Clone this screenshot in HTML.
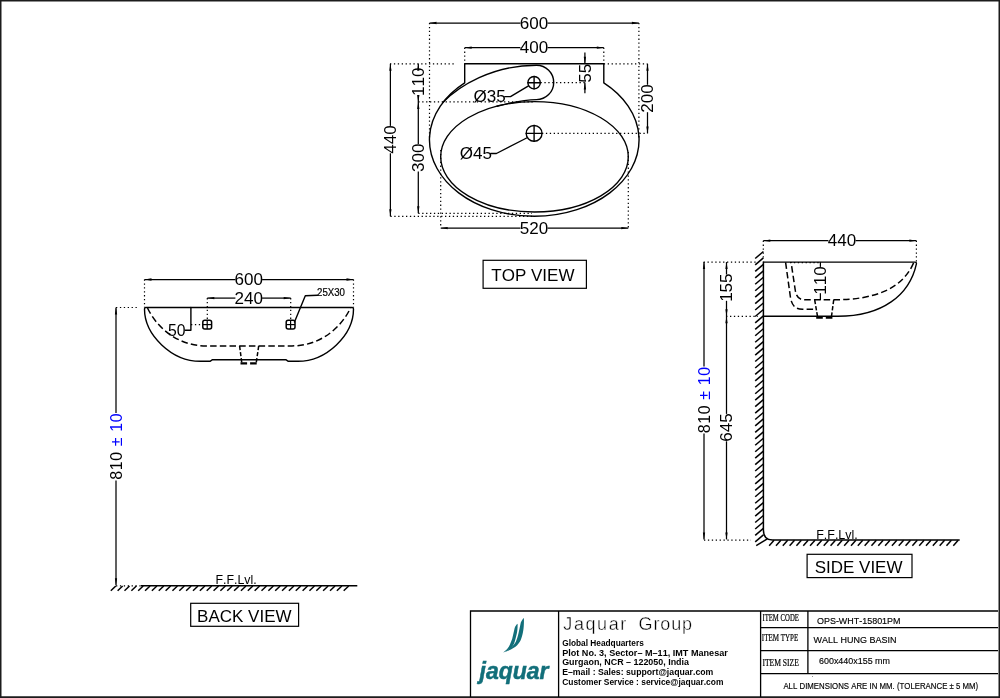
<!DOCTYPE html>
<html lang="en">
<head>
<meta charset="utf-8">
<title>Wall Hung Basin OPS-WHT-15801PM - Jaquar Group</title>
<style>
html,body{margin:0;padding:0;background:#fff;}
body{width:1000px;height:698px;overflow:hidden;position:relative;font-family:"Liberation Sans", sans-serif;}
svg{position:absolute;left:0;top:0;display:block;will-change:transform;}
svg text{font-family:"Liberation Sans", sans-serif;fill:#000;font-kerning:none;}
.d{stroke:#000;stroke-width:1.25;fill:none;}
.m{stroke:#000;stroke-width:1.4;fill:none;stroke-linecap:round;stroke-linejoin:round;}
.t{stroke:#000;stroke-width:1.2;fill:none;stroke-dasharray:1.3 2.6;}
.h{stroke:#000;stroke-width:1.5;fill:none;stroke-dasharray:6.5 3.2;}
.h2{stroke:#000;stroke-width:1.5;fill:none;stroke-dasharray:4.2 2;}
.m2{stroke:#000;stroke-width:1.5;fill:none;}
.m3{stroke:#000;stroke-width:1.2;fill:none;}
.hb{stroke:#000;stroke-width:2.3;fill:none;stroke-dasharray:6.6 3;}
.a{fill:#000;stroke:none;}
.b{stroke:#000;stroke-width:1.2;fill:#fff;}
.f{stroke:#000;stroke-width:1.5;fill:none;}
.k{stroke:#000;stroke-width:1.5;fill:none;}
.tb{stroke:#000;stroke-width:1.3;fill:none;}
.frame{stroke:#1a1a1a;stroke-width:2;fill:none;}
</style>
</head>
<body>
<svg width="1000" height="698" viewBox="0 0 1000 698">
<rect x="0" y="0" width="1000" height="698" fill="#fff"/>
<path fill="#1c1c1c" d="M0,0 H1000 V698 H0 Z M1.5,1.5 V696.3 H998.5 V1.5 Z" fill-rule="evenodd"/>
<g id="top-view">
<line class="d" x1="429.5" y1="23.0" x2="520.4" y2="23.0"/>
<line class="d" x1="547.6" y1="23.0" x2="638.9" y2="23.0"/>
<polygon class="a" points="429.5,23.0 436.5,21.85 436.5,24.15"/>
<polygon class="a" points="638.9,23.0 631.9,21.85 631.9,24.15"/>
<text x="534.0" y="28.7" font-size="16" text-anchor="middle" textLength="28.42" lengthAdjust="spacingAndGlyphs">600</text>
<line class="d" x1="464.7" y1="47.7" x2="520.4" y2="47.7"/>
<line class="d" x1="547.6" y1="47.7" x2="603.8" y2="47.7"/>
<polygon class="a" points="464.7,47.7 471.7,46.550000000000004 471.7,48.85"/>
<polygon class="a" points="603.8,47.7 596.8,46.550000000000004 596.8,48.85"/>
<text x="534.0" y="53.400000000000006" font-size="16" text-anchor="middle" textLength="28.42" lengthAdjust="spacingAndGlyphs">400</text>
<line class="d" x1="440.7" y1="228.1" x2="520.4" y2="228.1"/>
<line class="d" x1="547.6" y1="228.1" x2="628.3" y2="228.1"/>
<polygon class="a" points="440.7,228.1 447.7,226.95 447.7,229.25"/>
<polygon class="a" points="628.3,228.1 621.3,226.95 621.3,229.25"/>
<text x="534.0" y="233.79999999999998" font-size="16" text-anchor="middle" textLength="28.42" lengthAdjust="spacingAndGlyphs">520</text>
<line class="t" x1="429.5" y1="23" x2="429.5" y2="140"/>
<line class="t" x1="638.9" y1="23" x2="638.9" y2="140"/>
<line class="t" x1="464.7" y1="47.7" x2="464.7" y2="63.8"/>
<line class="t" x1="603.8" y1="47.7" x2="603.8" y2="63.8"/>
<line class="t" x1="440.7" y1="150" x2="440.7" y2="228.1"/>
<line class="t" x1="628.3" y1="152" x2="628.3" y2="228.1"/>
<line class="t" x1="390" y1="63.8" x2="455" y2="63.8"/>
<line class="t" x1="418.3" y1="101.9" x2="534.5" y2="101.9"/>
<line class="t" x1="418.3" y1="213.3" x2="532" y2="213.3"/>
<line class="t" x1="390.4" y1="216.4" x2="532" y2="216.4"/>
<line class="t" x1="603.8" y1="63.8" x2="647.5" y2="63.8"/>
<line class="t" x1="542" y1="133.4" x2="647.5" y2="133.4"/>
<line class="t" x1="540.5" y1="82.6" x2="584.9" y2="82.6"/>
<line class="d" x1="390.4" y1="63.8" x2="390.4" y2="125.88864"/>
<line class="d" x1="390.4" y1="153.31136" x2="390.4" y2="216.3"/>
<polygon class="a" points="390.4,63.8 389.25,70.8 391.54999999999995,70.8"/>
<polygon class="a" points="390.4,216.3 389.25,209.3 391.54999999999995,209.3"/>
<text transform="translate(396.09999999999997,139.6) rotate(-90)" font-size="16" text-anchor="middle" textLength="28.42" lengthAdjust="spacingAndGlyphs">440</text>
<line class="d" x1="418.3" y1="63.8" x2="418.3" y2="68.58864"/>
<line class="d" x1="418.3" y1="94.91136" x2="418.3" y2="101.9"/>
<polygon class="a" points="418.3,63.8 417.15000000000003,70.8 419.45,70.8"/>
<polygon class="a" points="418.3,101.9 417.15000000000003,94.9 419.45,94.9"/>
<text transform="translate(424.0,81.75) rotate(-90)" font-size="16" text-anchor="middle" textLength="28.42" lengthAdjust="spacingAndGlyphs">110</text>
<line class="d" x1="418.3" y1="101.9" x2="418.3" y2="143.98863999999998"/>
<line class="d" x1="418.3" y1="171.41136" x2="418.3" y2="213.3"/>
<polygon class="a" points="418.3,101.9 417.15000000000003,108.9 419.45,108.9"/>
<polygon class="a" points="418.3,213.3 417.15000000000003,206.3 419.45,206.3"/>
<text transform="translate(424.0,157.7) rotate(-90)" font-size="16" text-anchor="middle" textLength="28.42" lengthAdjust="spacingAndGlyphs">300</text>
<line class="d" x1="647.5" y1="63.8" x2="647.5" y2="84.78864"/>
<line class="d" x1="647.5" y1="112.21136" x2="647.5" y2="133.4"/>
<polygon class="a" points="647.5,63.8 646.35,70.8 648.65,70.8"/>
<polygon class="a" points="647.5,133.4 646.35,126.4 648.65,126.4"/>
<text transform="translate(653.2,98.5) rotate(-90)" font-size="16" text-anchor="middle" textLength="28.42" lengthAdjust="spacingAndGlyphs">200</text>
<line class="d" x1="584.9" y1="52.5" x2="584.9" y2="63.8"/>
<line class="d" x1="584.9" y1="82.6" x2="584.9" y2="93.2"/>
<polygon class="a" points="584.9,63.8 583.75,56.8 586.05,56.8"/>
<polygon class="a" points="584.9,82.6 583.75,89.6 586.05,89.6"/>
<text transform="translate(590.6,73.2) rotate(-90)" font-size="16" text-anchor="middle" textLength="18.95" lengthAdjust="spacingAndGlyphs">55</text>
<path class="m" d="M464.7,82.9 V63.8 H603.8 V82.9 A104.8,76.3 0 1 1 464.7,82.9"/>
<ellipse class="m" cx="534.5" cy="156.8" rx="93.8" ry="55.2"/>
<path class="m" d="M443,102.3 C458.8,86 492.4,65.2 536.5,65.2 A17.2,17.2 0 0 1 536.5,99.6 C523,99.6 508,103.4 497,106.2"/>
<circle class="m" cx="534.1" cy="82.7" r="6.2"/>
<line class="m" x1="527.9" y1="82.7" x2="540.3000000000001" y2="82.7"/>
<line class="m" x1="534.1" y1="76.5" x2="534.1" y2="88.9"/>
<circle class="m" cx="534.1" cy="133.4" r="7.9"/>
<line class="m" x1="526.2" y1="133.4" x2="542.0" y2="133.4"/>
<line class="m" x1="534.1" y1="125.5" x2="534.1" y2="141.3"/>
<text x="473.6" y="101.8" font-size="16" text-anchor="start" textLength="32.21" lengthAdjust="spacingAndGlyphs">&#216;35</text>
<path class="m" d="M504.8,96.6 H510.5 L528.5,85.9"/>
<text x="459.8" y="158.9" font-size="16" text-anchor="start" textLength="32.21" lengthAdjust="spacingAndGlyphs">&#216;45</text>
<path class="m" d="M490.7,153.5 H496.4 L526.6,138"/>
<rect class="b" x="483.1" y="260.3" width="103.3" height="28"/>
<text x="532.9" y="280.6" font-size="17" text-anchor="middle" >TOP VIEW</text>
</g>
<g id="back-view">
<line class="d" x1="144.5" y1="279.5" x2="235.4" y2="279.5"/>
<line class="d" x1="262.1" y1="279.5" x2="353.5" y2="279.5"/>
<polygon class="a" points="144.5,279.5 151.5,278.35 151.5,280.65"/>
<polygon class="a" points="353.5,279.5 346.5,278.35 346.5,280.65"/>
<text x="248.75" y="285.2" font-size="16" text-anchor="middle" textLength="28.42" lengthAdjust="spacingAndGlyphs">600</text>
<line class="d" x1="207.3" y1="298.1" x2="235.4" y2="298.1"/>
<line class="d" x1="262.1" y1="298.1" x2="290.7" y2="298.1"/>
<polygon class="a" points="207.3,298.1 214.3,296.95000000000005 214.3,299.25"/>
<polygon class="a" points="290.7,298.1 283.7,296.95000000000005 283.7,299.25"/>
<text x="248.75" y="303.8" font-size="16" text-anchor="middle" textLength="28.42" lengthAdjust="spacingAndGlyphs">240</text>
<line class="t" x1="144.5" y1="279.5" x2="144.5" y2="307.5"/>
<line class="t" x1="353.5" y1="279.5" x2="353.5" y2="307.5"/>
<line class="t" x1="207.3" y1="298.1" x2="207.3" y2="319"/>
<line class="t" x1="290.7" y1="298.1" x2="290.7" y2="319"/>
<line class="t" x1="116" y1="307.5" x2="138" y2="307.5"/>
<line class="t" x1="191" y1="324.6" x2="202" y2="324.6"/>
<path class="m" d="M145.6,307.5 H352.4 Q353.5,307.6 353.5,309 C353.5,335 326.5,361.3 297.8,361.3 H288.3 L285.8,359.7 H212.5 L210,361.3 H200.3 C171.8,361.3 144.5,335 144.5,309 Q144.5,307.6 145.6,307.5 Z"/>
<path class="h" d="M147.5,308 C157,328 178,345.9 206,345.9 H292 C320,345.9 341,328 350.5,308"/>
<path class="h2" d="M239.6,345.9 L241.8,363 M258.7,345.9 L256.2,363"/>
<path class="hb" d="M240.5,363.3 H257"/>
<rect class="m2" x="202.8" y="320.3" width="8.8" height="8.6" rx="2"/>
<line class="m3" x1="202.79999999999998" y1="324.6" x2="211.6" y2="324.6"/>
<line class="m3" x1="207.2" y1="320.3" x2="207.2" y2="328.9"/>
<rect class="m2" x="286.2" y="320.3" width="8.8" height="8.6" rx="2"/>
<line class="m3" x1="286.20000000000005" y1="324.6" x2="295.0" y2="324.6"/>
<line class="m3" x1="290.6" y1="320.3" x2="290.6" y2="328.9"/>
<path class="m" d="M190.9,307.5 V330.2 H185.3"/>
<text x="168.0" y="335.7" font-size="16" text-anchor="start" textLength="17.5" lengthAdjust="spacingAndGlyphs">50</text>
<path class="m" d="M317.5,295.2 L305.3,295.8 L294.5,322"/>
<text x="317" y="296.2" font-size="10.6" text-anchor="start" stroke="#000" stroke-width="0.2" textLength="28" lengthAdjust="spacingAndGlyphs">25X30</text>
<line class="d" x1="116" y1="307.5" x2="116" y2="413"/>
<line class="d" x1="116" y1="480.5" x2="116" y2="585.2"/>
<polygon class="a" points="116,307.5 114.85,314.5 117.15,314.5"/>
<polygon class="a" points="116,585.2 114.85,578.2 117.15,578.2"/>
<text transform="translate(121.6,446.6) rotate(-90)" font-size="16" text-anchor="middle" textLength="66.3" lengthAdjust="spacing">810 <tspan fill="#0000ff">&#177; 10</tspan></text>
<line class="t" x1="116" y1="585.8" x2="141" y2="585.8"/>
<line class="f" x1="141" y1="585.8" x2="357.3" y2="585.8"/>
<line class="k" x1="115.8" y1="586.0" x2="110.8" y2="590.7"/>
<line class="k" x1="122.65" y1="586.0" x2="117.65" y2="590.7"/>
<line class="k" x1="129.5" y1="586.0" x2="124.5" y2="590.7"/>
<line class="k" x1="136.35" y1="586.0" x2="131.35" y2="590.7"/>
<line class="k" x1="143.2" y1="586.0" x2="138.2" y2="590.7"/>
<line class="k" x1="150.05" y1="586.0" x2="145.05" y2="590.7"/>
<line class="k" x1="156.9" y1="586.0" x2="151.9" y2="590.7"/>
<line class="k" x1="163.75" y1="586.0" x2="158.75" y2="590.7"/>
<line class="k" x1="170.6" y1="586.0" x2="165.6" y2="590.7"/>
<line class="k" x1="177.45" y1="586.0" x2="172.45" y2="590.7"/>
<line class="k" x1="184.3" y1="586.0" x2="179.3" y2="590.7"/>
<line class="k" x1="191.15" y1="586.0" x2="186.15" y2="590.7"/>
<line class="k" x1="198.0" y1="586.0" x2="193.0" y2="590.7"/>
<line class="k" x1="204.85" y1="586.0" x2="199.85" y2="590.7"/>
<line class="k" x1="211.7" y1="586.0" x2="206.7" y2="590.7"/>
<line class="k" x1="218.55" y1="586.0" x2="213.55" y2="590.7"/>
<line class="k" x1="225.4" y1="586.0" x2="220.4" y2="590.7"/>
<line class="k" x1="232.25" y1="586.0" x2="227.25" y2="590.7"/>
<line class="k" x1="239.1" y1="586.0" x2="234.1" y2="590.7"/>
<line class="k" x1="245.95" y1="586.0" x2="240.95" y2="590.7"/>
<line class="k" x1="252.8" y1="586.0" x2="247.8" y2="590.7"/>
<line class="k" x1="259.65" y1="586.0" x2="254.65" y2="590.7"/>
<line class="k" x1="266.5" y1="586.0" x2="261.5" y2="590.7"/>
<line class="k" x1="273.35" y1="586.0" x2="268.35" y2="590.7"/>
<line class="k" x1="280.2" y1="586.0" x2="275.2" y2="590.7"/>
<line class="k" x1="287.05" y1="586.0" x2="282.05" y2="590.7"/>
<line class="k" x1="293.9" y1="586.0" x2="288.9" y2="590.7"/>
<line class="k" x1="300.75" y1="586.0" x2="295.75" y2="590.7"/>
<line class="k" x1="307.6" y1="586.0" x2="302.6" y2="590.7"/>
<line class="k" x1="314.45" y1="586.0" x2="309.45" y2="590.7"/>
<line class="k" x1="321.3" y1="586.0" x2="316.3" y2="590.7"/>
<line class="k" x1="328.15" y1="586.0" x2="323.15" y2="590.7"/>
<line class="k" x1="335.0" y1="586.0" x2="330.0" y2="590.7"/>
<line class="k" x1="341.85" y1="586.0" x2="336.85" y2="590.7"/>
<line class="k" x1="348.7" y1="586.0" x2="343.7" y2="590.7"/>
<text x="215.5" y="583.8" font-size="12" text-anchor="start" textLength="41.2" lengthAdjust="spacingAndGlyphs">F.F.Lvl.</text>
<rect class="b" x="190.7" y="603.3" width="107.9" height="23"/>
<text x="244.3" y="621.7" font-size="17" text-anchor="middle" >BACK VIEW</text>
</g>
<g id="side-view">
<line class="d" x1="763.3" y1="240.7" x2="828.4" y2="240.7"/>
<line class="d" x1="855.6" y1="240.7" x2="916.4" y2="240.7"/>
<polygon class="a" points="763.3,240.7 770.3,239.54999999999998 770.3,241.85"/>
<polygon class="a" points="916.4,240.7 909.4,239.54999999999998 909.4,241.85"/>
<text x="842.0" y="246.39999999999998" font-size="16" text-anchor="middle" textLength="28.42" lengthAdjust="spacingAndGlyphs">440</text>
<line class="t" x1="763.3" y1="240.7" x2="763.3" y2="258"/>
<line class="t" x1="916.4" y1="240.7" x2="916.4" y2="262"/>
<line class="t" x1="703.6" y1="262.1" x2="758" y2="262.1"/>
<line class="t" x1="726.1" y1="316.3" x2="758" y2="316.3"/>
<line class="t" x1="704" y1="540.2" x2="751" y2="540.2"/>
<path class="m" d="M763.6,262.1 H915 Q916.7,262.2 916.4,263.8 C909.5,295.4 882,316.3 838,316.3 H763.6"/>
<path class="h" d="M913.6,262.9 C902.5,288.6 875.3,299.8 834,299.8 H805 C798.8,299.8 796.3,296.5 795.3,290.5 L791.1,262.4"/>
<path class="h" d="M785.6,262.4 L790.4,297 C791.6,305 795,309.3 802.5,309.3 H816"/>
<path class="h2" d="M814.7,300 L817.6,317 M833.7,300 L831.4,317"/>
<path class="hb" d="M816.2,317.6 H832.4"/>
<line class="d" x1="820.4" y1="262.1" x2="820.4" y2="266.9"/>
<line class="d" x1="820.4" y1="293.2" x2="820.4" y2="300.2"/>
<text transform="translate(826.1,280.6) rotate(-90)" font-size="16" text-anchor="middle" textLength="28.42" lengthAdjust="spacingAndGlyphs">110</text>
<line class="t" x1="790" y1="262.6" x2="820" y2="262.6"/>
<line class="d" x1="726.5" y1="262.1" x2="726.5" y2="274.48864"/>
<line class="d" x1="726.5" y1="300.81136" x2="726.5" y2="316.3"/>
<polygon class="a" points="726.5,262.1 725.35,269.1 727.65,269.1"/>
<polygon class="a" points="726.5,316.3 725.35,309.3 727.65,309.3"/>
<text transform="translate(732.2,287.65) rotate(-90)" font-size="16" text-anchor="middle" textLength="28.42" lengthAdjust="spacingAndGlyphs">155</text>
<line class="d" x1="726.5" y1="316.3" x2="726.5" y2="413.9"/>
<line class="d" x1="726.5" y1="441.3" x2="726.5" y2="539.4"/>
<polygon class="a" points="726.5,539.4 725.35,532.4 727.65,532.4"/>
<polygon class="a" points="726.5,316.3 725.35,323.3 727.65,323.3"/>
<text transform="translate(732.2,427.6) rotate(-90)" font-size="16" text-anchor="middle" textLength="28.42" lengthAdjust="spacingAndGlyphs">645</text>
<line class="d" x1="704" y1="262.1" x2="704" y2="366.5"/>
<line class="d" x1="704" y1="433.6" x2="704" y2="539.4"/>
<polygon class="a" points="704,262.1 702.85,269.1 705.15,269.1"/>
<polygon class="a" points="704,539.4 702.85,532.4 705.15,532.4"/>
<text transform="translate(709.6,400) rotate(-90)" font-size="16" text-anchor="middle" textLength="66.3" lengthAdjust="spacing">810 <tspan fill="#0000ff">&#177; 10</tspan></text>
<path class="f" d="M763.4,261.5 V530 C763.4,536.5 766.5,540 772.5,540 H959.7"/>
<line class="k" x1="763.4" y1="251.5" x2="755.2" y2="258.5"/>
<line class="k" x1="763.4" y1="257.94" x2="755.2" y2="264.94"/>
<line class="k" x1="763.4" y1="264.38" x2="755.2" y2="271.38"/>
<line class="k" x1="763.4" y1="270.82" x2="755.2" y2="277.82"/>
<line class="k" x1="763.4" y1="277.26" x2="755.2" y2="284.26"/>
<line class="k" x1="763.4" y1="283.7" x2="755.2" y2="290.7"/>
<line class="k" x1="763.4" y1="290.14" x2="755.2" y2="297.14"/>
<line class="k" x1="763.4" y1="296.58" x2="755.2" y2="303.58"/>
<line class="k" x1="763.4" y1="303.02" x2="755.2" y2="310.02"/>
<line class="k" x1="763.4" y1="309.46" x2="755.2" y2="316.46"/>
<line class="k" x1="763.4" y1="315.9" x2="755.2" y2="322.9"/>
<line class="k" x1="763.4" y1="322.34" x2="755.2" y2="329.34"/>
<line class="k" x1="763.4" y1="328.78" x2="755.2" y2="335.78"/>
<line class="k" x1="763.4" y1="335.22" x2="755.2" y2="342.22"/>
<line class="k" x1="763.4" y1="341.66" x2="755.2" y2="348.66"/>
<line class="k" x1="763.4" y1="348.1" x2="755.2" y2="355.1"/>
<line class="k" x1="763.4" y1="354.54" x2="755.2" y2="361.54"/>
<line class="k" x1="763.4" y1="360.98" x2="755.2" y2="367.98"/>
<line class="k" x1="763.4" y1="367.42" x2="755.2" y2="374.42"/>
<line class="k" x1="763.4" y1="373.86" x2="755.2" y2="380.86"/>
<line class="k" x1="763.4" y1="380.3" x2="755.2" y2="387.3"/>
<line class="k" x1="763.4" y1="386.74" x2="755.2" y2="393.74"/>
<line class="k" x1="763.4" y1="393.18" x2="755.2" y2="400.18"/>
<line class="k" x1="763.4" y1="399.62" x2="755.2" y2="406.62"/>
<line class="k" x1="763.4" y1="406.06" x2="755.2" y2="413.06"/>
<line class="k" x1="763.4" y1="412.5" x2="755.2" y2="419.5"/>
<line class="k" x1="763.4" y1="418.94" x2="755.2" y2="425.94"/>
<line class="k" x1="763.4" y1="425.38" x2="755.2" y2="432.38"/>
<line class="k" x1="763.4" y1="431.82" x2="755.2" y2="438.82"/>
<line class="k" x1="763.4" y1="438.26" x2="755.2" y2="445.26"/>
<line class="k" x1="763.4" y1="444.7" x2="755.2" y2="451.7"/>
<line class="k" x1="763.4" y1="451.14" x2="755.2" y2="458.14"/>
<line class="k" x1="763.4" y1="457.58" x2="755.2" y2="464.58"/>
<line class="k" x1="763.4" y1="464.02" x2="755.2" y2="471.02"/>
<line class="k" x1="763.4" y1="470.46" x2="755.2" y2="477.46"/>
<line class="k" x1="763.4" y1="476.9" x2="755.2" y2="483.9"/>
<line class="k" x1="763.4" y1="483.34" x2="755.2" y2="490.34"/>
<line class="k" x1="763.4" y1="489.78" x2="755.2" y2="496.78"/>
<line class="k" x1="763.4" y1="496.22" x2="755.2" y2="503.22"/>
<line class="k" x1="763.4" y1="502.66" x2="755.2" y2="509.66"/>
<line class="k" x1="763.4" y1="509.1" x2="755.2" y2="516.1"/>
<line class="k" x1="763.4" y1="515.54" x2="755.2" y2="522.54"/>
<line class="k" x1="763.4" y1="521.98" x2="755.2" y2="528.98"/>
<line class="k" x1="763.4" y1="528.42" x2="755.2" y2="535.42"/>
<line class="k" x1="763.4" y1="534.86" x2="755.2" y2="541.86"/>
<line class="k" x1="958.2" y1="540.3" x2="953.3" y2="545.7"/>
<line class="k" x1="951.38" y1="540.3" x2="946.48" y2="545.7"/>
<line class="k" x1="944.56" y1="540.3" x2="939.66" y2="545.7"/>
<line class="k" x1="937.74" y1="540.3" x2="932.84" y2="545.7"/>
<line class="k" x1="930.92" y1="540.3" x2="926.02" y2="545.7"/>
<line class="k" x1="924.1" y1="540.3" x2="919.2" y2="545.7"/>
<line class="k" x1="917.28" y1="540.3" x2="912.38" y2="545.7"/>
<line class="k" x1="910.46" y1="540.3" x2="905.56" y2="545.7"/>
<line class="k" x1="903.64" y1="540.3" x2="898.74" y2="545.7"/>
<line class="k" x1="896.82" y1="540.3" x2="891.92" y2="545.7"/>
<line class="k" x1="890.0" y1="540.3" x2="885.1" y2="545.7"/>
<line class="k" x1="883.18" y1="540.3" x2="878.28" y2="545.7"/>
<line class="k" x1="876.36" y1="540.3" x2="871.46" y2="545.7"/>
<line class="k" x1="869.54" y1="540.3" x2="864.64" y2="545.7"/>
<line class="k" x1="862.72" y1="540.3" x2="857.82" y2="545.7"/>
<line class="k" x1="855.9" y1="540.3" x2="851.0" y2="545.7"/>
<line class="k" x1="849.08" y1="540.3" x2="844.18" y2="545.7"/>
<line class="k" x1="842.26" y1="540.3" x2="837.36" y2="545.7"/>
<line class="k" x1="835.44" y1="540.3" x2="830.54" y2="545.7"/>
<line class="k" x1="828.62" y1="540.3" x2="823.72" y2="545.7"/>
<line class="k" x1="821.8" y1="540.3" x2="816.9" y2="545.7"/>
<line class="k" x1="814.98" y1="540.3" x2="810.08" y2="545.7"/>
<line class="k" x1="808.16" y1="540.3" x2="803.26" y2="545.7"/>
<line class="k" x1="801.34" y1="540.3" x2="796.44" y2="545.7"/>
<line class="k" x1="794.52" y1="540.3" x2="789.62" y2="545.7"/>
<line class="k" x1="787.7" y1="540.3" x2="782.8" y2="545.7"/>
<line class="k" x1="780.88" y1="540.3" x2="775.98" y2="545.7"/>
<line class="k" x1="774.06" y1="540.3" x2="769.16" y2="545.7"/>
<line class="k" x1="767.3" y1="538.8" x2="756.2" y2="545.6"/>
<text x="816.2" y="538.8" font-size="12" text-anchor="start" textLength="41.6" lengthAdjust="spacingAndGlyphs">F.F.Lvl.</text>
<rect class="b" x="807.1" y="554.3" width="104.9" height="23.3"/>
<text x="858.6" y="572.9" font-size="17" text-anchor="middle" >SIDE VIEW</text>
</g>
<g id="title-block">
<path class="tb" d="M470.5,697 V611 H998 M558.6,611 V697 M760.6,611 V697 M807.9,611 V673.6 M760.6,627.6 H998 M760.6,650.6 H998 M760.6,673.6 H998"/>
<g fill="#126f7a">
<path d="M523.9,618 C524.2,626 523.2,634 521.2,638.7 C519.3,643.8 515.5,648.8 503.2,652.4 C508.5,650.2 513,646.5 515.7,642.1 C517.8,638 519.3,630 520.8,622.6 C521.6,620.5 522.7,619 523.9,618 Z"/>
<path d="M517.6,623.8 C517.7,628 517.4,631 516.9,632.9 C516,637 515.1,640.5 514.2,643.2 C512.6,646.8 509.5,650.3 503.2,652.4 C505.6,650.6 507.6,648.6 508.8,646.7 C510.3,644 511.4,641 512.2,638.7 C513.2,635 514,631 514.6,628.3 C515.2,626.3 516.2,624.8 517.6,623.8 Z"/>
</g>
<text x="479.5" y="678.6" font-size="23" font-weight="bold" font-style="italic" style="fill:#126f7a;stroke:#126f7a;stroke-width:0.5" id="logotxt">jaquar</text>
<text y="630.2" font-size="18" style="stroke:#fff;stroke-width:0.38;paint-order:fill stroke"><tspan x="563.3" textLength="63" lengthAdjust="spacing">Jaquar</tspan> <tspan x="638.6" textLength="53.4" lengthAdjust="spacing">Group</tspan></text>
<text x="562.2" y="646.0" font-size="8.6" font-weight="bold" textLength="81.6" lengthAdjust="spacingAndGlyphs">Global Headquarters</text>
<text x="562.2" y="655.7" font-size="8.6" font-weight="bold" textLength="165.6" lengthAdjust="spacingAndGlyphs">Plot No. 3, Sector&#8211; M&#8211;11, IMT Manesar</text>
<text x="562.2" y="665.3" font-size="8.6" font-weight="bold" textLength="126.8" lengthAdjust="spacingAndGlyphs">Gurgaon, NCR &#8211; 122050, India</text>
<text x="562.2" y="675.4" font-size="8.6" font-weight="bold" textLength="151.1" lengthAdjust="spacingAndGlyphs">E&#8211;mail : Sales: support@jaquar.com</text>
<text x="562.2" y="684.7" font-size="8.6" font-weight="bold" textLength="161.2" lengthAdjust="spacingAndGlyphs">Customer Service : service@jaquar.com</text>
<text x="762.4" y="620.5" font-size="9.4" style="font-family:&quot;Liberation Serif&quot;,serif" stroke="#000" stroke-width="0.2" textLength="36.5" lengthAdjust="spacingAndGlyphs">ITEM CODE</text>
<text x="761.8" y="641.0" font-size="9.4" style="font-family:&quot;Liberation Serif&quot;,serif" stroke="#000" stroke-width="0.2" textLength="36.5" lengthAdjust="spacingAndGlyphs">ITEM TYPE</text>
<text x="762.4" y="666.1" font-size="9.4" style="font-family:&quot;Liberation Serif&quot;,serif" stroke="#000" stroke-width="0.2" textLength="36.5" lengthAdjust="spacingAndGlyphs">ITEM SIZE</text>
<text x="817" y="624" font-size="9.6" stroke="#000" stroke-width="0.15" textLength="83.5" lengthAdjust="spacingAndGlyphs">OPS-WHT-15801PM</text>
<text x="813.6" y="643" font-size="9.6" stroke="#000" stroke-width="0.15" textLength="82.8" lengthAdjust="spacingAndGlyphs">WALL HUNG BASIN</text>
<text x="819" y="664" font-size="9.6" stroke="#000" stroke-width="0.15" textLength="71" lengthAdjust="spacingAndGlyphs">600x440x155 mm</text>
<text x="783.4" y="689" font-size="8.4" stroke="#000" stroke-width="0.15" textLength="194.8" lengthAdjust="spacingAndGlyphs">ALL DIMENSIONS ARE IN MM. (TOLERANCE &#177; 5 MM)</text>
<rect x="812.2" y="676.2" width="0.8" height="0.8" fill="#555"/>
</g>
</svg>
</body>
</html>
